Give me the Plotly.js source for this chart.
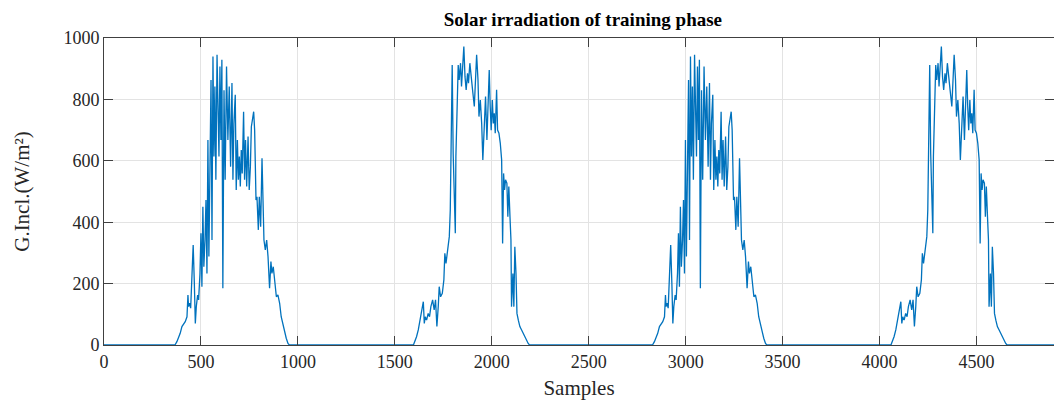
<!DOCTYPE html>
<html>
<head>
<meta charset="utf-8">
<script src="https://cdn.plot.ly/plotly-3.0.1.min.js"></script>
<style>
html,body{margin:0;padding:0;background:#fff;}
#chart{width:1054px;height:401px;}
</style>
</head>
<body>
<div id="chart"></div>
<script>
// Day A (first and third day in the plot): sample index and irradiance (W/m2)
var dayA_x = [366,376,393,402,411,419,428,433,436,441,447,454,460,466,471,476,483,488,495,500,505,510,515,521,526,531,536,541,546,552,557,562,567,572,577,583,588,593,598,603,608,613,619,625,632,639,646,653,660,665,670,677,682,688,693,698,703,708,713,720,725,730,736,743,749,755,760,767,772,777,784,789,796,801,808,815,820,825,832,839,846,854,861,866,873,880,889,897,906,914,923,932,940,949,956];
var dayA_y = [0,11,38,60,70,76,92,163,125,136,120,233,326,200,70,125,163,147,233,364,190,450,255,342,472,233,668,288,516,863,342,940,614,842,538,945,777,614,907,668,929,185,830,538,907,668,842,581,853,538,722,815,505,668,538,614,516,635,559,760,538,668,516,679,505,581,711,733,760,700,472,483,375,483,385,608,450,342,310,342,288,185,272,233,255,212,157,163,136,92,65,43,22,5,0];

// Day B (second and fourth day in the plot)
var dayB_x = [1596,1604,1612,1621,1629,1638,1647,1652,1657,1664,1672,1679,1686,1695,1703,1710,1717,1724,1729,1736,1745,1753,1758,1764,1769,1776,1781,1786,1791,1796,1801,1807,1812,1815,1822,1827,1832,1839,1844,1850,1856,1862,1868,1875,1880,1887,1894,1901,1910,1917,1922,1929,1934,1941,1948,1954,1961,1968,1975,1982,1987,1992,1997,2003,2008,2013,2018,2025,2030,2037,2044,2051,2056,2061,2066,2071,2078,2083,2088,2094,2099,2102,2109,2114,2119,2125,2130,2137,2145,2154,2162,2171,2180,2188,2195];
var dayB_y = [0,11,27,49,81,103,141,70,92,81,103,92,125,147,114,147,60,125,190,157,168,212,299,266,299,320,353,440,668,912,624,472,364,614,777,912,863,918,842,896,972,874,831,885,853,918,863,831,777,907,945,863,744,798,722,603,700,809,668,787,896,777,700,798,722,755,690,831,700,690,657,603,331,559,505,538,527,418,516,418,342,125,233,125,320,233,103,81,60,49,38,27,16,5,0];

// The two-day pattern repeats once; second copy starts this many samples later
var repeatShift = 2463;
var totalSamples = 4926;

var xTicks = [0,500,1000,1500,2000,2500,3000,3500,4000,4500];
var yTicks = [0,200,400,600,800,1000];

var xs = [0], ys = [0];
[0, repeatShift].forEach(function(off){
  dayA_x.forEach(function(v,i){ xs.push(v+off); ys.push(dayA_y[i]); });
  dayB_x.forEach(function(v,i){ xs.push(v+off); ys.push(dayB_y[i]); });
});
xs.push(totalSamples); ys.push(0);

var trace = {
  x: xs, y: ys, type: 'scatter', mode: 'lines',
  line: {color: '#0072BD', width: 1.3},
  hoverinfo: 'skip'
};

var fontFam = '"Liberation Serif", "Times New Roman", serif';
var axisCommon = {
  showline: true, linecolor: '#404040', linewidth: 1,
  mirror: 'allticks', ticks: 'inside', ticklen: 9, tickcolor: '#404040', tickwidth: 1,
  showgrid: true, gridcolor: '#e3e3e3', gridwidth: 1,
  zeroline: false,
  tickfont: {family: fontFam, size: 18, color: '#262626'}
};

var layout = {
  width: 1054, height: 401,
  margin: {l: 104, r: 0, t: 38, b: 56},
  paper_bgcolor: '#ffffff', plot_bgcolor: '#ffffff',
  showlegend: false,
  title: {text: '<b>Solar irradiation of training phase</b>', x: 0.553, xanchor: 'center', y: 0.952, yanchor: 'middle',
          font: {family: fontFam, size: 19, color: '#000000'}},
  xaxis: Object.assign({}, axisCommon, {
    range: [0, 4900], tickvals: xTicks, ticktext: xTicks.map(String),
    title: {text: 'Samples', font: {family: fontFam, size: 21, color: '#262626'}, standoff: 9}
  }),
  yaxis: Object.assign({}, axisCommon, {
    range: [0, 1000], tickvals: yTicks, ticktext: yTicks.map(String),
    title: {text: 'G.Incl.(W/m²)', font: {family: fontFam, size: 21, color: '#262626'}, standoff: 28}
  })
};

Plotly.newPlot('chart', [trace], layout, {staticPlot: true, displayModeBar: false});
</script>
</body>
</html>
